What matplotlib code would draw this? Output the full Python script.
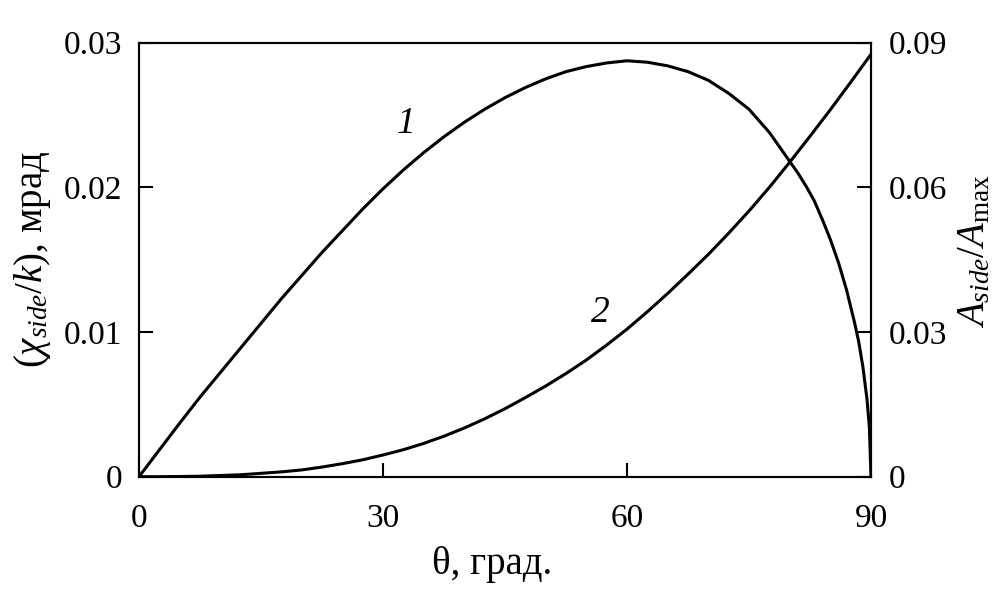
import matplotlib
matplotlib.use("Agg")
import matplotlib.pyplot as plt

plt.rcParams['font.family'] = ['Liberation Serif', 'DejaVu Serif']
plt.rcParams['mathtext.fontset'] = 'custom'
plt.rcParams['mathtext.rm'] = 'Liberation Serif'
plt.rcParams['mathtext.it'] = 'Liberation Serif:italic'
plt.rcParams['mathtext.bf'] = 'Liberation Serif:bold'

# Curve 1: chi_side/k, mrad (left axis)
theta1 = [0, 2.5, 5, 7.5, 10, 12.5, 15, 17.5, 20, 22.5, 25, 27.5, 30, 32.5,
          35, 37.5, 40, 42.5, 45, 47.5, 50, 52.5, 55, 57.5, 60, 62.5, 65,
          67.5, 70, 72.5, 75, 77.5, 80, 81, 82, 83, 84, 85, 86, 87, 88, 88.5,
          89, 89.5, 89.8, 90]
chi1 = [0, 0.00185, 0.0037, 0.0055, 0.0072, 0.0089, 0.0106, 0.0123, 0.0139,
        0.0155, 0.0170, 0.0185, 0.0199, 0.0212, 0.0224, 0.0235, 0.0245,
        0.0254, 0.0262, 0.0269, 0.0275, 0.0280, 0.02835, 0.0286, 0.02875,
        0.02865, 0.0284, 0.0280, 0.0274, 0.0265, 0.0254, 0.0238, 0.0218,
        0.0210, 0.0201, 0.0191, 0.0178, 0.0164, 0.0148, 0.0129, 0.0106,
        0.0093, 0.0076, 0.0054, 0.0034, 0.0]

# Curve 2: A_side/A_max (right axis)
theta2 = [0, 2.5, 5, 7.5, 10, 12.5, 15, 17.5, 20, 22.5, 25, 27.5, 30, 32.5,
          35, 37.5, 40, 42.5, 45, 47.5, 50, 52.5, 55, 57.5, 60, 62.5, 65,
          67.5, 70, 72.5, 75, 77.5, 80, 82.5, 85, 87.5, 90]
amp2 = [0, 0.0, 0.00004, 0.0001, 0.00025, 0.0004, 0.0007, 0.0010, 0.0014,
        0.0020, 0.0027, 0.0035, 0.0045, 0.0056, 0.0069, 0.0084, 0.0101,
        0.0120, 0.0141, 0.0164, 0.0188, 0.0214, 0.0242, 0.0273, 0.0306,
        0.0342, 0.0380, 0.0420, 0.0461, 0.0505, 0.0551, 0.0600, 0.0652,
        0.0706, 0.0761, 0.0818, 0.0876]

xticks = [0, 30, 60, 90]
yticks_left = [0, 0.01, 0.02, 0.03]
yticks_right = [0, 0.03, 0.06, 0.09]

fig = plt.figure(figsize=(10.08, 6.02), dpi=100)
ax = fig.add_axes([139 / 1008, 1 - 476.7 / 602, (871 - 139) / 1008, (476.7 - 42.7) / 602])
ax2 = ax.twinx()

lw = 2.2
ax.plot(theta1, chi1, color='black', lw=lw, solid_capstyle='butt', solid_joinstyle='round')
ax2.plot(theta2, amp2, color='black', lw=lw, solid_capstyle='butt', solid_joinstyle='round')

ax.set_xlim(0, 90)
ax.set_ylim(0, 0.03)
ax2.set_ylim(0, 0.09)

fs = 24
ax.set_xticks(xticks)
ax.set_xticklabels([str(v) for v in xticks])
ax.set_yticks(yticks_left)
ax.set_yticklabels(['0', '0.01', '0.02', '0.03'])
ax2.set_yticks(yticks_right)
ax2.set_yticklabels(['0', '0.03', '0.06', '0.09'])

for a in (ax, ax2):
    for s in a.spines.values():
        s.set_linewidth(1.5)

ax.tick_params(axis='x', direction='in', length=10, width=1.5, labelsize=fs, pad=19, top=False)
ax.tick_params(axis='y', direction='in', length=10, width=1.5, labelsize=fs, pad=12, right=False)
ax2.tick_params(axis='y', direction='in', length=10, width=1.5, labelsize=fs, pad=13, left=False)

ax.set_xlabel('θ, град.', fontsize=28)
ax.xaxis.set_label_coords(0.483, -0.16)
ax.set_ylabel(r'$(\chi_{side}/k)$, мрад', fontsize=28)
ax.yaxis.set_label_coords(-0.118, 0.5)
ax2.set_ylabel(r'$A_{side}/A_{\mathrm{max}}$', fontsize=28, rotation=90)
ax2.yaxis.set_label_coords(1.117, 0.52)

ax.text(32.8, 0.0244, '1', fontsize=27, style='italic', ha='center', va='center')
ax.text(56.7, 0.0113, '2', fontsize=27, style='italic', ha='center', va='center')

fig.savefig('out.png', dpi=100)
